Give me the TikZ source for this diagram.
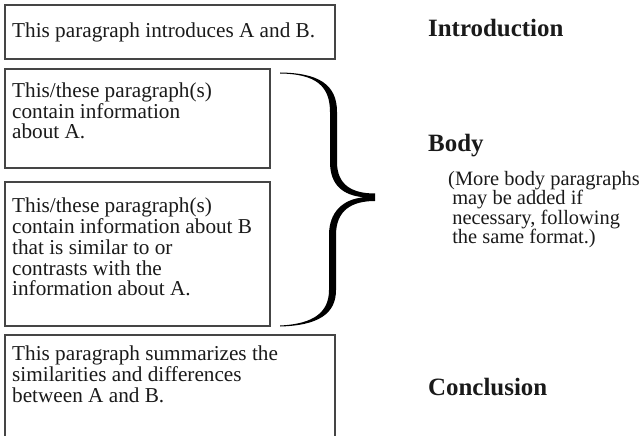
\documentclass[tikz,border=0pt]{standalone}
\usepackage{fontspec}
\setmainfont{Liberation Serif}
\definecolor{boxline}{HTML}{454545}
\definecolor{ink}{HTML}{1A1A1A}
\begin{document}
\begin{tikzpicture}[x=1bp,y=-1bp,
  framed/.style={draw=boxline, line width=1.3bp},
  para/.style={anchor=base west, inner sep=0pt, align=left, text=ink,
    font=\fontsize{21.3}{21}\selectfont},
  head/.style={anchor=base west, inner sep=0pt, text=ink,
    font=\fontsize{25}{28}\selectfont\bfseries},
  note/.style={anchor=base west, inner sep=0pt, align=left, text=ink,
    font=\fontsize{20.5}{19.7}\selectfont}]
\useasboundingbox (0,0) rectangle (641,436);
\fill[white] (0,0) rectangle (641,436);
% boxes
\draw[framed] (5,5) rectangle (335,59);
\draw[framed] (5,69) rectangle (270,168);
\draw[framed] (5,182) rectangle (270,326);
\draw[framed] (5,436) -- (5,335) -- (335,335) -- (335,436);
% box texts (base anchor = baseline of last line)
\node[para] (t1) at (12,38) {This paragraph introduces A and B.};
\node[para] (t2) at (12,139) {This/these paragraph(s)\\contain information\\about A.};
\node[para] (t3) at (12,296) {This/these paragraph(s)\\contain information about B\\that is similar to or\\contrasts with the\\information about A.};
\node[para, font=\fontsize{21.3}{20.7}\selectfont] (t4) at (12,402) {This paragraph summarizes the\\similarities and differences\\between A and B.};
% brace
\fill[black] (280,72.5) .. controls (318,73) and (337,84) .. (337,112) -- (337,162)
  .. controls (337,185) and (352,193.5) .. (375,193.5) -- (375,201)
  .. controls (352,201) and (336,210) .. (336,235) -- (336,290)
  .. controls (336,314) and (318,325.5) .. (280,326.5) -- (280,325.5)
  .. controls (314,324) and (329,312) .. (329,290) -- (329,235)
  .. controls (329,212) and (343,199) .. (364,197.3)
  .. controls (343,195.5) and (330,185) .. (330,162) -- (330,112)
  .. controls (330,86) and (316,74) .. (280,73.5) -- cycle;
% right column
\node[head] (intro) at (428,37) {Introduction};
\node[head] (body) at (428,152) {Body};
\node[note] (more) at (448,244) {(More body paragraphs\\\hspace*{0.2em}may be added if\\\hspace*{0.2em}necessary, following\\\hspace*{0.2em}the same format.)};
\node[head] (concl) at (428,395) {Conclusion};
\end{tikzpicture}
\end{document}
